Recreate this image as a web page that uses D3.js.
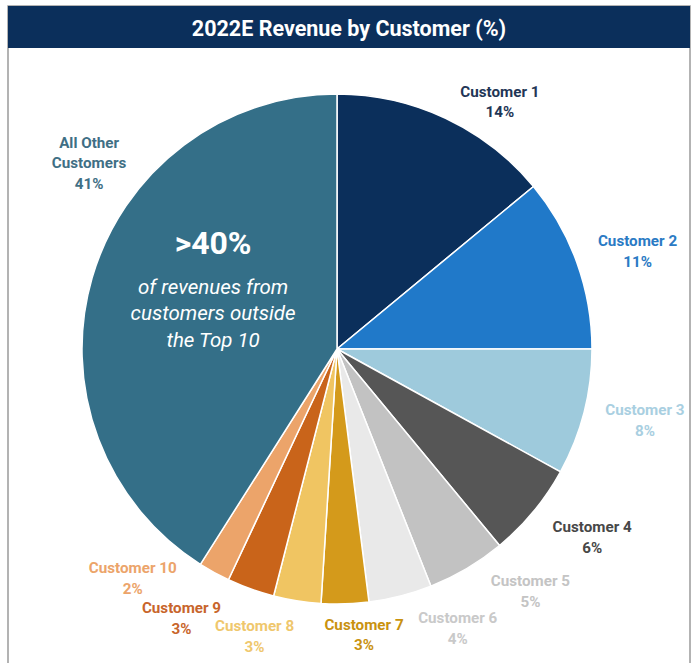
<!DOCTYPE html>
<html><head><meta charset="utf-8">
<script src="https://cdn.jsdelivr.net/npm/d3@7"></script>
<style>body{margin:0;background:#fff;}svg{display:block;font-family:Roboto,"Noto Sans",sans-serif;}</style>
</head><body>
<svg id="chart" width="696" height="663"></svg>
<script>
const title = "2022E Revenue by Customer (%)";
const categories = ["Customer 1","Customer 2","Customer 3","Customer 4","Customer 5","Customer 6","Customer 7","Customer 8","Customer 9","Customer 10","All Other Customers"];
const values = [14, 11, 8, 6, 5, 4, 3, 3, 3, 2, 41];
const sliceColors = ["#0b2f5b","#2079c9","#9ecadc","#565656","#c2c2c2","#e9e9e9","#d49a1b","#f0c562","#c9641a","#eca46a","#346f88"];
const labelColors = ["#1f3656","#2a7ac4","#a9cfe1","#474747","#c4c4c4","#c9c9c9","#c9920f","#efc76d","#c8652b","#eca46a","#3f6f85"];
const labelLines = [["Customer 1"],["Customer 2"],["Customer 3"],["Customer 4"],["Customer 5"],["Customer 6"],["Customer 7"],["Customer 8"],["Customer 9"],["Customer 10"],["All Other","Customers"]];
// label placement: angle nudge (deg) and radius
const labelAngleNudge = [8.2, 1.8, -1.4, -3.2, -8, -9, -3.6, 7, 10.2, 12.9, 20.7];
const labelRadius = [296, 316, 316, 317, 310, 304, 287, 299, 311, 307, 310];
const annotationBig = ">40%";
const annotationLines = ["of revenues from","customers outside","the Top 10"];

const svg = d3.select("#chart");
// frame
svg.append("rect").attr("x",8).attr("y",6).attr("width",682).attr("height",700)
  .attr("fill","#fff").attr("stroke","#9a9a9a").attr("stroke-width",1.5);
svg.append("rect").attr("x",8).attr("y",6).attr("width",682).attr("height",42).attr("fill","#0b2f5b");
svg.append("text").attr("x",349).attr("y",28).attr("text-anchor","middle").attr("dominant-baseline","central")
  .attr("fill","#fff").attr("font-size",21.5).attr("font-weight",700).text(title);

const cx = 337, cy = 349, R = 255;
const g = svg.append("g").attr("transform",`translate(${cx},${cy})`);
const pie = d3.pie().sort(null).value(d=>d)(values);
const arc = d3.arc().innerRadius(0).outerRadius(R);
g.selectAll("path.slice").data(pie).join("path").attr("class","slice")
  .attr("d",arc).attr("fill",(d,i)=>sliceColors[i]).attr("stroke","#fff").attr("stroke-width",1.5);

pie.forEach((d,i)=>{
  const a = (d.startAngle + d.endAngle)/2 + labelAngleNudge[i]*Math.PI/180;
  const r = labelRadius[i];
  const x = r*Math.sin(a), y = -r*Math.cos(a);
  const lines = labelLines[i].concat([values[i]+"%"]);
  const lh = 20.5;
  const t = g.append("text").attr("text-anchor","middle").attr("fill",labelColors[i])
    .attr("font-size",15.2).attr("font-weight",700);
  lines.forEach((s,k)=>{
    t.append("tspan").attr("x",x).attr("y",y + (k-(lines.length-1)/2)*lh).attr("dy","0.35em").text(s);
  });
});

// annotation inside "All Other" slice
const other = pie[10];
const oa = (other.startAngle+other.endAngle)/2 + 10.4*Math.PI/180;
const orr = 138.6;
const ax = orr*Math.sin(oa), ay = -orr*Math.cos(oa);
g.append("text").attr("x",ax).attr("y",ay-44).attr("text-anchor","middle").attr("dominant-baseline","central")
  .attr("fill","#fff").attr("font-size",32).attr("font-weight",700).text(annotationBig);
annotationLines.forEach((s,k)=>{
  g.append("text").attr("x",ax).attr("y",ay+k*26.3).attr("text-anchor","middle").attr("dominant-baseline","central")
    .attr("fill","#fff").attr("font-size",20.5).attr("font-style","italic").text(s);
});
</script>
</body></html>
